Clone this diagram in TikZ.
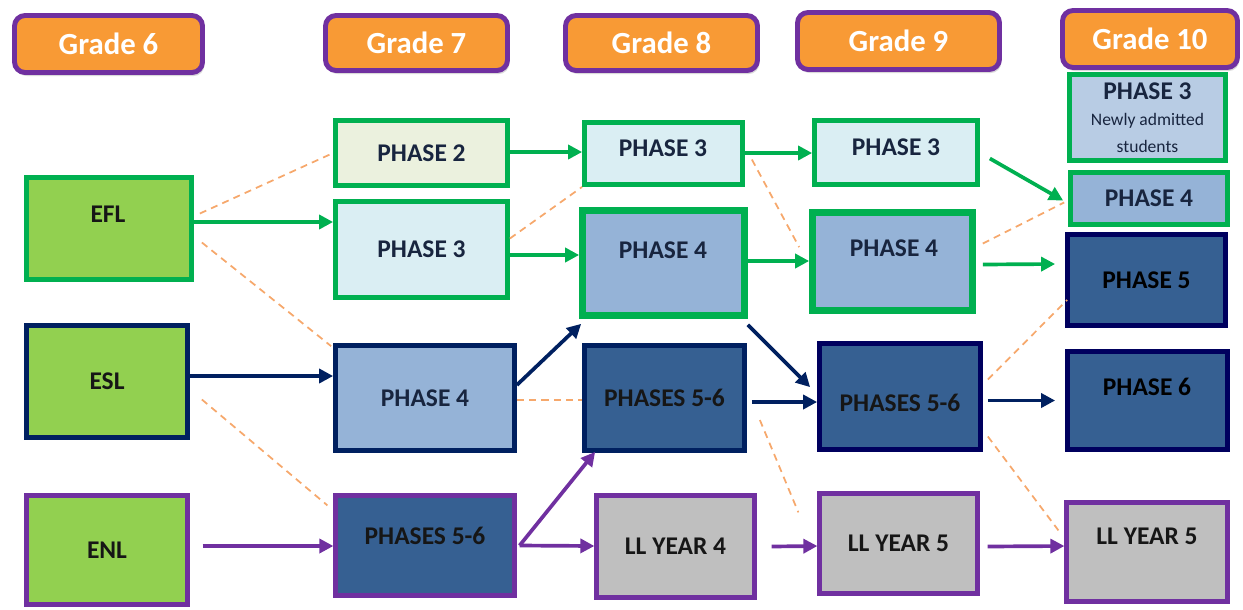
\documentclass[tikz,border=0pt]{standalone}
\usepackage{fontspec}
\setmainfont{Carlito}
\usetikzlibrary{arrows.meta,shadows,calc}
\definecolor{ggreen}{HTML}{00B050}
\definecolor{lgreen}{HTML}{92D050}
\definecolor{horange}{HTML}{F89A35}
\definecolor{hpurple}{HTML}{7030A0}
\definecolor{navy}{HTML}{002060}
\definecolor{dnavy}{HTML}{00005E}
\definecolor{palegreen}{HTML}{EBF1DE}
\definecolor{paleblue}{HTML}{DAEEF3}
\definecolor{midblue}{HTML}{95B3D7}
\definecolor{greyblue}{HTML}{B8CCE4}
\definecolor{darkblue}{HTML}{366092}
\definecolor{lgrey}{HTML}{BFBFBF}
\definecolor{dorange}{HTML}{F6A86C}
\definecolor{txtnavy}{HTML}{18253F}
\definecolor{txtdark}{HTML}{161616}
\begin{document}
\begin{tikzpicture}[x=0.02cm,y=-0.02cm,
  sz/.style 2 args={minimum width=(#1-5)*0.02cm, minimum height=(#2-5)*0.02cm},
  box/.style={draw, line width=2.7pt, inner sep=0pt, font=\fontsize{14.5}{16}\selectfont\bfseries, text=txtnavy},
  gbox/.style={box, draw=ggreen},
  nbox/.style={box, draw=navy},
  dbox/.style={box, draw=dnavy},
  pbox/.style={box, draw=hpurple, line width=2.4pt},
  txt/.style={inner sep=0pt, font=\fontsize{14.5}{16}\selectfont\bfseries, text=txtnavy},
  header/.style={rounded corners=6pt, draw=hpurple, fill=horange, line width=2.8pt, inner sep=0pt,
    text=white, font=\fontsize{17.5}{20}\selectfont\bfseries,
    drop shadow={shadow xshift=1pt, shadow yshift=-2pt, opacity=0.3}},
  garr/.style={draw=ggreen, line width=2.1pt, -{Triangle[length=8pt,width=8pt]}},
  narr/.style={draw=navy, line width=2.1pt, -{Triangle[length=8pt,width=8pt]}},
  parr/.style={draw=hpurple, line width=2.1pt, -{Triangle[length=8pt,width=8pt]}},
  dsh/.style={draw=dorange, line width=1pt, dash pattern=on 4pt off 3pt}
]
\useasboundingbox (0,0) rectangle (1243,609);

% headers
\node[header, sz={193}{62}] (g6) at (108.5,44) {Grade 6};
\node[header, sz={187}{60}] (g7) at (416.5,43) {Grade 7};
\node[header, sz={197}{60}] (g8) at (661.5,43) {Grade 8};
\node[header, sz={207}{62}] (g9) at (898.5,41) {Grade 9};
\node[header, sz={180}{62}] (g10) at (1150,39) {Grade 10};

% grade 6
\node[gbox, fill=lgreen, sz={170}{107}] (efl) at (109,228.5) {};
\node[txt, text=txtdark] (eflt) at (108,214) {EFL};
\node[nbox, fill=lgreen, sz={166}{117}, text=txtdark] (esl) at (107,381.5) {ESL};
\node[pbox, fill=lgreen, sz={166}{114}, text=txtdark] (enl) at (107,550) {ENL};

% grade 7
\node[gbox, fill=palegreen, sz={177}{70}] (p2a) at (421.5,153) {PHASE 2};
\node[gbox, fill=paleblue, sz={177}{101}] (p3a) at (421.5,249.5) {PHASE 3};
\node[nbox, fill=midblue, sz={184}{110}] (p4a) at (425,398) {PHASE 4};
\node[pbox, fill=darkblue, sz={184}{105}] (p56a) at (425,545.5) {};
\node[txt, text=txtdark] (p56at) at (425,536) {PHASES 5-6};

% grade 8
\node[gbox, fill=paleblue, sz={163}{67}] (p3b) at (663.5,153.5) {};
\node[txt] (p3bt) at (663,148) {PHASE 3};
\node[gbox, line width=3.8pt, fill=midblue, sz={167}{110}] (p4b) at (663.5,263) {};
\node[txt] (p4bt) at (663,250) {PHASE 4};
\node[nbox, fill=darkblue, sz={165}{110}, text=txtdark] (p56b) at (664.5,398) {PHASES 5-6};
\node[pbox, fill=lgrey, sz={163}{107}, text=txtdark] (ll4) at (675.5,546.5) {LL YEAR 4};

% grade 9
\node[gbox, fill=paleblue, sz={168}{69}] (p3c) at (896,152.5) {};
\node[txt] (p3ct) at (896,147) {PHASE 3};
\node[gbox, line width=3.8pt, fill=midblue, sz={165}{103}] (p4c) at (892.5,261.5) {};
\node[txt] (p4ct) at (894,248) {PHASE 4};
\node[dbox, fill=darkblue, sz={166}{111}] (p56c) at (900,396.5) {};
\node[txt, text=txtdark] (p56ct) at (900,403) {PHASES 5-6};
\node[pbox, fill=lgrey, sz={163}{105}, text=txtdark] (ll5c) at (898.5,543.5) {LL YEAR 5};

% grade 10
\node[gbox, fill=greyblue, sz={161}{91}, align=center] (p3d) at (1147.5,117.5)
  {PHASE 3\\[-1pt]{\fontsize{10}{12}\selectfont\mdseries Newly admitted}\\[-1pt]{\fontsize{10}{12}\selectfont\mdseries students}};
\node[gbox, fill=midblue, sz={162}{57}] (p4d) at (1149,198.5) {PHASE 4};
\node[dbox, fill=darkblue, sz={163}{96}, text=black] (p5d) at (1146.5,280) {PHASE 5};
\node[dbox, fill=darkblue, sz={165}{103}] (p6d) at (1147.5,400.5) {};
\node[txt, text=black] (p6dt) at (1147,387) {PHASE 6};
\node[pbox, fill=lgrey, sz={166}{104}] (ll5d) at (1147,552) {};
\node[txt, text=txtdark] (ll5dt) at (1147,536) {LL YEAR 5};

% dashed links
\draw[dsh] ($(efl.east)+(6,-15)$) -- (p2a.west);
\draw[dsh] ($(efl.east)+(8,14)$) -- ($(p4a.north west)+(-2,3)$);
\draw[dsh] ($(esl.east)+(12,18)$) -- ($(p56a.north west)+(-6,12)$);
\draw[dsh] (p4a.east |- 0,400) -- (p56b.west |- 0,400);
\draw[dsh] ($(p3a.east)+(0,-11)$) -- (p3b.south west);
\draw[dsh] ($(p3b.east)+(7,6)$) -- ($(p4c.north west)+(-10,38)$);
\draw[dsh] ($(p4c.east)+(7,-18)$) -- ($(p4d.west)+(-4,4)$);
\draw[dsh] ($(p56c.east)+(5,-17)$) -- ($(p5d.west)+(2,20)$);
\draw[dsh] ($(p56b.east)+(13,22)$) -- ($(ll5c.north west)+(-19,21)$);
\draw[dsh] ($(p56c.east)+(5,40)$) -- ($(ll5d.north west)+(-6,30)$);

% green arrows
\draw[garr] (efl.east |- 0,222) -- (p3a.west |- 0,222);
\draw[garr] (p2a.east |- 0,152) -- (p3b.west |- 0,152);
\draw[garr] (p3a.east |- 0,255) -- (p4b.west |- 0,255);
\draw[garr] (p3b.east |- 0,153) -- (p3c.west |- 0,153);
\draw[garr] (p4b.east |- 0,261) -- (p4c.west |- 0,261);
\draw[garr] ($(p3c.east)+(10,6)$) -- ($(p4d.west)+(-5,2)$);
\draw[garr] ($(p4c.east)+(7,3)$) -- ($(p5d.west)+(-10,-16)$);

% navy arrows
\draw[narr] (esl.east |- 0,376) -- (p4a.west |- 0,376);
\draw[narr] ($(p4a.east)+(0,-13)$) -- ($(p4b.south west)+(2,5)$);
\draw[narr] ($(p4b.south east)+(0,6)$) -- ($(p56c.north west)+(-7,46)$);
\draw[narr] ($(p56b.east)+(5,4)$) -- (p56c.west |- 0,402);
\draw[narr] ($(p56c.east)+(5,4)$) -- ($(p6d.west)+(-10,0)$);

% purple arrows
\draw[parr] ($(enl.east)+(13,-4)$) -- (p56a.west |- 0,546);
\draw[parr] ($(p56a.east)+(3,0)$) -- ($(p56b.south west)+(13,-1)$);
\draw[parr] ($(p56a.east)+(3,0)$) -- (ll4.west |- 0,546);
\draw[parr] ($(ll4.east)+(15,0)$) -- (ll5c.west |- 0,546);
\draw[parr] ($(ll5c.east)+(8,3)$) -- (ll5d.west |- 0,546);
\end{tikzpicture}
\end{document}
